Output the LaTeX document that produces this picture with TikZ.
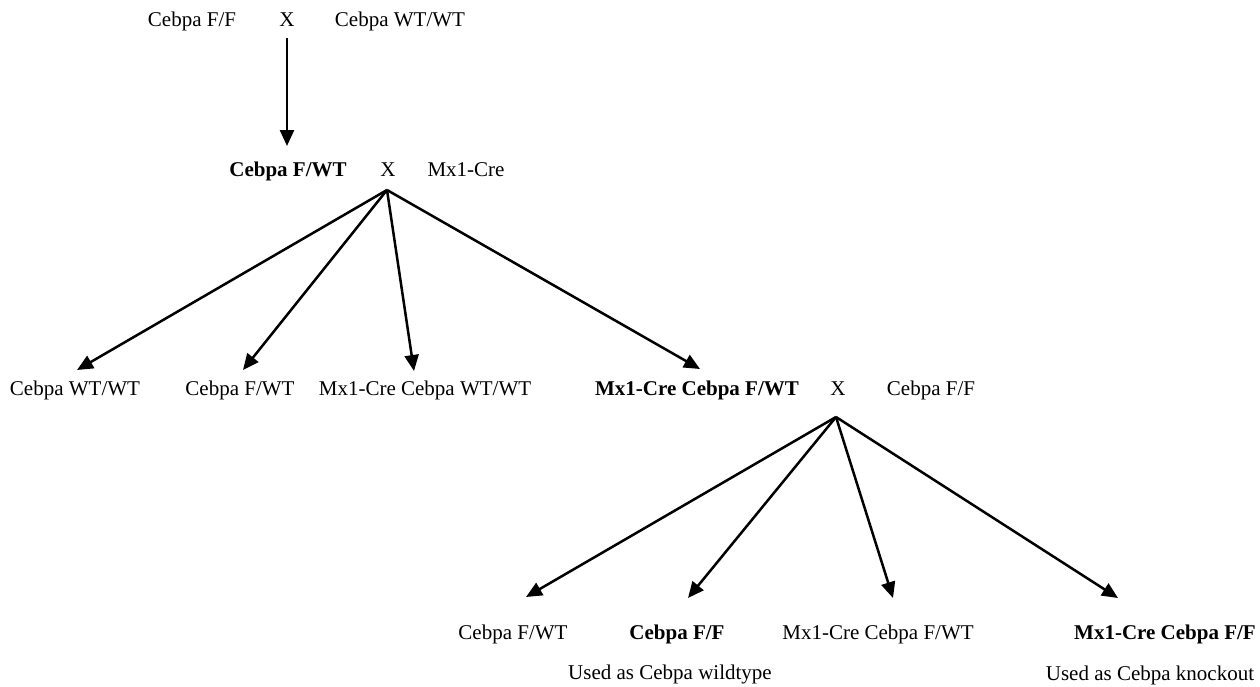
\documentclass[tikz,border=0pt]{standalone}
\usepackage{fontspec}
\setmainfont{Liberation Serif}
\usetikzlibrary{arrows.meta}
\begin{document}
\begin{tikzpicture}[x=1pt,y=-1pt,
  lbl/.style={anchor=base,inner sep=0pt,font=\fontsize{21}{25}\selectfont},
  blbl/.style={lbl,font=\fontsize{21}{25}\selectfont\bfseries},
  arr/.style={line width=2.5pt,-{Triangle[length=16pt,width=14pt]}}]
\useasboundingbox (0,0) rectangle (1260,686);
% row 1
\node[lbl] (a1) at (192,26) {Cebpa F/F};
\node[lbl] (x1) at (287,26) {X};
\node[lbl] (a2) at (400,26) {Cebpa WT/WT};
% row 2
\node[blbl] (b1) at (288,176) {Cebpa F/WT};
\node[lbl] (x2) at (388,176) {X};
\node[lbl] (b2) at (466,176) {Mx1-Cre};
% row 3
\node[lbl] (c1) at (75,395) {Cebpa WT/WT};
\node[lbl] (c2) at (240,395) {Cebpa F/WT};
\node[lbl] (c3) at (425,395) {Mx1-Cre Cebpa WT/WT};
\node[blbl] (c4) at (697,395) {Mx1-Cre Cebpa F/WT};
\node[lbl] (x3) at (838,395) {X};
\node[lbl] (c5) at (931,395) {Cebpa F/F};
% row 4
\node[lbl] (d1) at (513,639) {Cebpa F/WT};
\node[blbl] (d2) at (677,639) {Cebpa F/F};
\node[lbl] (d3) at (878,639) {Mx1-Cre Cebpa F/WT};
\node[blbl] (d4) at (1165,639) {Mx1-Cre Cebpa F/F};
% row 5
\node[lbl] (e1) at (670,679) {Used as Cebpa wildtype};
\node[lbl] (e2) at (1150,680) {Used as Cebpa knockout};
% connectors
\coordinate (p1) at (287,38);
\coordinate (t1) at (287,146);
\draw[arr] (p1) -- (t1);
\coordinate (q) at (387,190);
\coordinate (tc1) at (77,370);
\coordinate (tc2) at (243,370);
\coordinate (tc3) at (414,371);
\coordinate (tc4) at (700,369);
\foreach \t in {tc1,tc2,tc3,tc4} \draw[arr] (q) -- (\t);
\coordinate (r) at (836,417);
\coordinate (td1) at (526,597);
\coordinate (td2) at (688,598);
\coordinate (td3) at (893,598);
\coordinate (td4) at (1118,598);
\foreach \t in {td1,td2,td3,td4} \draw[arr] (r) -- (\t);
\end{tikzpicture}
\end{document}
